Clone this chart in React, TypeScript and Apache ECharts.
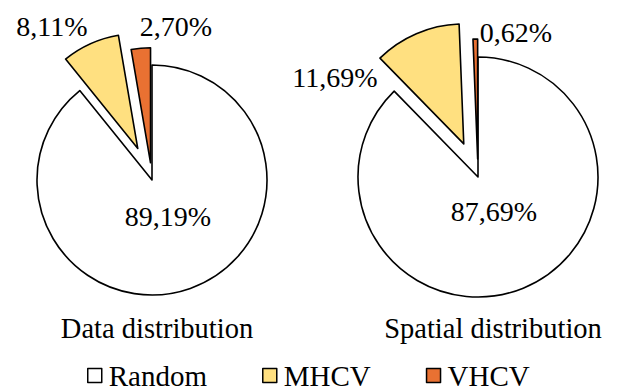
import React, { useEffect, useRef } from "react";
import * as echarts from "echarts";

const categories = ["Random", "MHCV", "VHCV"];
const dataDistribution = [89.19, 8.11, 2.7];
const spatialDistribution = [87.69, 11.69, 0.62];
const chartTitles = ["Data distribution", "Spatial distribution"];

const COLORS = ["#FFFFFF", "#FFE080", "#E97132"];
const FONT = "Liberation Serif";

type PieCfg = {
  values: number[];
  cx: number;
  cy: number;
  r: number;
  labels: [number, number][];
  titleX: number;
};

const pies: PieCfg[] = [
  { values: dataDistribution, cx: 152, cy: 180, r: 115, labels: [[168, 216], [52, 26], [176, 26]], titleX: 157 },
  { values: spatialDistribution, cx: 478, cy: 177, r: 120, labels: [[494, 211], [335, 77], [516, 32]], titleX: 493 },
];

const fmt = (v: number) => v.toFixed(2).replace(".", ",") + "%";

function layer(p: PieCfg, visible: number[], selectedIdx: number, offsetFrac: number) {
  return {
    type: "pie",
    center: [p.cx, p.cy],
    radius: [0, p.r],
    startAngle: 90,
    clockwise: true,
    silent: true,
    selectedMode: "multiple",
    selectedOffset: p.r * offsetFrac,
    emphasis: { disabled: true },
    label: { show: false },
    labelLine: { show: false },
    data: categories.map((name, i) => {
      const vis = visible.includes(i);
      return {
        name,
        value: p.values[i],
        selected: i === selectedIdx,
        itemStyle: vis
          ? { color: COLORS[i], borderColor: "#000", borderWidth: 1.6 }
          : { color: "rgba(0,0,0,0)", borderWidth: 0 },
      };
    }),
  };
}

export default function App() {
  const ref = useRef<HTMLDivElement>(null);
  useEffect(() => {
    if (!ref.current) return;
    const chart = echarts.init(ref.current, undefined, { renderer: "svg" });
    const series: any[] = [];
    const graphics: any[] = [];
    pies.forEach((p) => {
      series.push(layer(p, [0, 1], 1, 0.3));
      series.push(layer(p, [2], 2, 0.15));
      p.values.forEach((v, i) => {
        graphics.push({
          type: "text",
          x: p.labels[i][0],
          y: p.labels[i][1],
          silent: true,
          z: 10,
          style: {
            text: fmt(v),
            fontFamily: FONT,
            fontSize: 28,
            fill: "#000",
            align: "center",
            verticalAlign: "middle",
          },
        });
      });
    });
    chart.setOption({
      animation: false,
      backgroundColor: "#fff",
      title: chartTitles.map((t, i) => ({
        text: t,
        left: pies[i].titleX,
        top: 314,
        padding: 0,
        textAlign: "center",
        textStyle: { fontFamily: FONT, fontSize: 28.5, fontWeight: "normal", color: "#000" },
      })),
      legend: {
        left: 87,
        top: 361,
        padding: 0,
        itemWidth: 14,
        itemHeight: 14,
        itemGap: 55,
        icon: "rect",
        selectedMode: false,
        textStyle: { fontFamily: FONT, fontSize: 29, color: "#000", lineHeight: 26, padding: [0, 0, 0, 2] },
        data: categories.map((name, i) => ({
          name,
          itemStyle: { color: COLORS[i], borderColor: "#000", borderWidth: 1.5 },
        })),
      },
      graphic: graphics,
      series,
    });
    return () => chart.dispose();
  }, []);
  return (
    <div
      ref={ref}
      style={{ width: 617, height: 390, position: "absolute", left: 0, top: 0 }}
    />
  );
}
